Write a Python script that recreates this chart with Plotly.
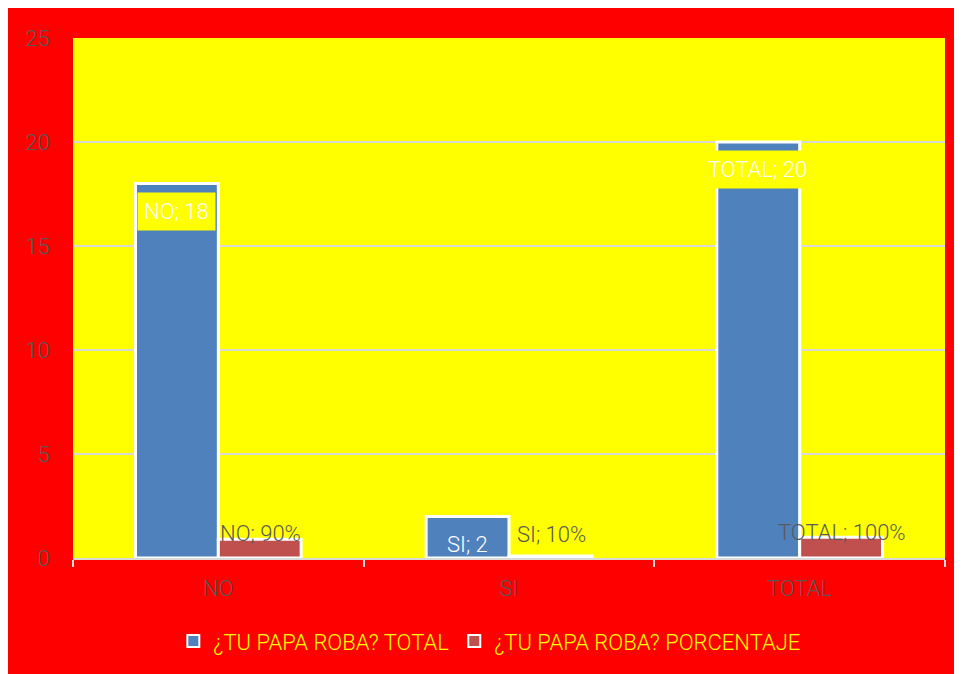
import plotly.graph_objects as go

categories = ["NO", "SI", "TOTAL"]
totals = [18, 2, 20]
percents = [0.9, 0.1, 1.0]
pct_labels = ["90%", "10%", "100%"]
series_names = ["¿TU PAPA ROBA? TOTAL", "¿TU PAPA ROBA? PORCENTAJE"]
y_ticks = [0, 5, 10, 15, 20, 25]

# label placement offsets (pixels), styling only
pct_label_shift = [6, 21, 5]

FONT = "Roboto"
GRAY = "#595959"
FS = 22

fig = go.Figure()
fig.add_trace(go.Bar(
    x=categories, y=totals, name=series_names[0],
    marker=dict(color="#4F81BD", line=dict(color="white", width=3)),
    offsetgroup="a", hoverinfo="skip",
))
fig.add_trace(go.Bar(
    x=categories, y=percents, name=series_names[1],
    marker=dict(color="#C0504D", line=dict(color="white", width=3)),
    offsetgroup="b", hoverinfo="skip",
))

# labels for the blue bars
for c, v in zip(categories, totals):
    boxed = v > 5
    fig.add_annotation(
        x=c, y=v, xref="x", yref="y", xshift=-42,
        text=f"{c}; {v}", showarrow=False,
        yanchor="top" if boxed else "bottom",
        yshift=-8 if boxed else -48,
        font=dict(family=FONT, size=FS, color="white", weight=300),
        bgcolor="#FFFF00" if boxed else "rgba(0,0,0,0)",
        borderpad=6,
    )

# labels for the red bars
for c, p, v, s in zip(categories, pct_labels, percents, pct_label_shift):
    fig.add_annotation(
        x=c, y=v, xref="x", yref="y", xshift=42,
        text=f"{c}; {p}", showarrow=False,
        yanchor="middle", yshift=s,
        font=dict(family=FONT, size=FS, color=GRAY, weight=300),
    )

fig.update_layout(
    width=954, height=666,
    paper_bgcolor="#FF0000", plot_bgcolor="#FFFF00",
    margin=dict(l=65, r=17, t=30, b=114),
    barmode="group", bargap=0.43, bargroupgap=0.0,
    font=dict(family=FONT, size=FS, color=GRAY, weight=300),
    showlegend=True,
    legend=dict(orientation="h", x=0.478, xanchor="center", y=-0.16, yanchor="middle",
                font=dict(family=FONT, size=FS, color="#FFFF00", weight=300),
                bgcolor="rgba(0,0,0,0)", itemsizing="constant"),
)
fig.update_xaxes(
    type="category", categoryorder="array", categoryarray=categories,
    showgrid=False, showline=True, linecolor="#d9d9d9", linewidth=2,
    ticks="outside", tickson="boundaries", ticklen=7, tickcolor="#d9d9d9", tickwidth=2,
    tickfont=dict(family=FONT, size=FS, color=GRAY, weight=300),
    ticklabelstandoff=10,
)
fig.update_yaxes(
    range=[0, 25], tickvals=y_ticks, showgrid=True, gridcolor="#d9d9d9", gridwidth=2,
    zeroline=False, showline=False,
    tickfont=dict(family=FONT, size=FS, color=GRAY, weight=300),
    ticklabelstandoff=22,
)

fig.write_html("out.html")
